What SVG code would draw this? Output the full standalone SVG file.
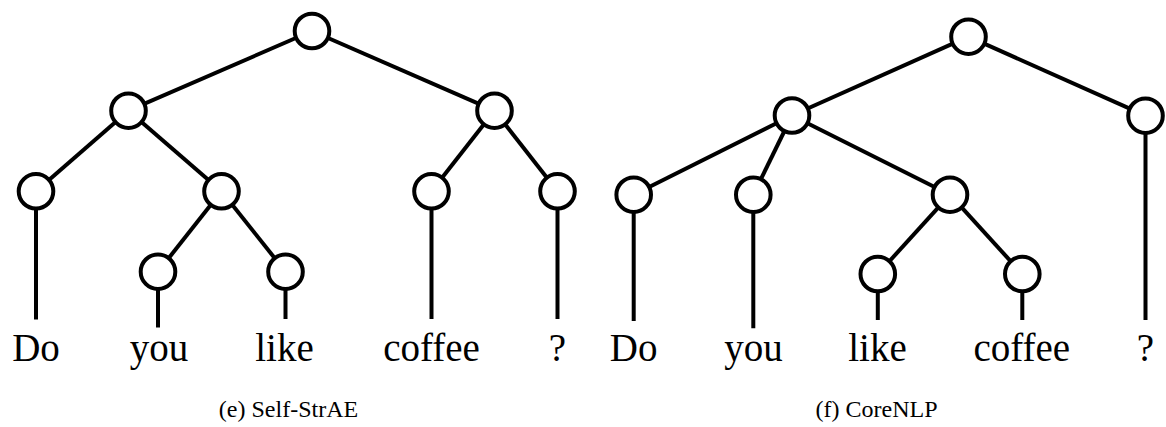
<svg xmlns="http://www.w3.org/2000/svg" width="1166" height="427" viewBox="0 0 1166 427">
<style>
.edge{stroke:#000;stroke-width:4;fill:none;stroke-linecap:butt}
.node{fill:#fff;stroke:#000;stroke-width:4}
.word{font-family:'Liberation Serif',Tinos,'Times New Roman',Times,'DejaVu Serif',serif;font-size:39px;fill:#000;text-anchor:middle}
.cap{font-family:'Liberation Serif',Tinos,'Times New Roman',Times,'DejaVu Serif',serif;font-size:24px;fill:#000;text-anchor:middle}
</style>
<rect width="1166" height="427" fill="#fff"/>
<g id="connectors">
<line class="edge" x1="312" y1="31" x2="128.5" y2="110.7"/>
<line class="edge" x1="312" y1="31" x2="494.5" y2="110.7"/>
<line class="edge" x1="128.5" y1="110.7" x2="36" y2="191.3"/>
<line class="edge" x1="128.5" y1="110.7" x2="221.5" y2="191.3"/>
<line class="edge" x1="494.5" y1="110.7" x2="431.5" y2="191.3"/>
<line class="edge" x1="494.5" y1="110.7" x2="557.5" y2="191.3"/>
<line class="edge" x1="221.5" y1="191.3" x2="158" y2="271.7"/>
<line class="edge" x1="221.5" y1="191.3" x2="285.5" y2="271.7"/>
<line class="edge" x1="36" y1="191.3" x2="36" y2="319.5"/>
<line class="edge" x1="431.5" y1="191.3" x2="431.5" y2="319"/>
<line class="edge" x1="557.5" y1="191.3" x2="557.5" y2="319"/>
<line class="edge" x1="158" y1="271.7" x2="158" y2="327.5"/>
<line class="edge" x1="285.5" y1="271.7" x2="285.5" y2="319"/>
<line class="edge" x1="968.5" y1="36.7" x2="792" y2="115.5"/>
<line class="edge" x1="968.5" y1="36.7" x2="1145.5" y2="115.7"/>
<line class="edge" x1="792" y1="115.5" x2="633.7" y2="194.7"/>
<line class="edge" x1="792" y1="115.5" x2="753.3" y2="194.7"/>
<line class="edge" x1="792" y1="115.5" x2="950" y2="194.7"/>
<line class="edge" x1="950" y1="194.7" x2="877.8" y2="274"/>
<line class="edge" x1="950" y1="194.7" x2="1022.3" y2="274"/>
<line class="edge" x1="633.7" y1="194.7" x2="633.7" y2="321"/>
<line class="edge" x1="753.3" y1="194.7" x2="753.3" y2="328.3"/>
<line class="edge" x1="877.8" y1="274" x2="877.8" y2="320"/>
<line class="edge" x1="1022.3" y1="274" x2="1022.3" y2="320"/>
<line class="edge" x1="1145.5" y1="115.7" x2="1145.5" y2="320"/>
</g>
<g id="e-root"><circle class="node" cx="312" cy="31" r="17.3"/></g>
<g id="e-n1"><circle class="node" cx="128.5" cy="110.7" r="17.3"/></g>
<g id="e-n2"><circle class="node" cx="494.5" cy="110.7" r="17.3"/></g>
<g id="e-do"><circle class="node" cx="36" cy="191.3" r="17.3"/></g>
<g id="e-n3"><circle class="node" cx="221.5" cy="191.3" r="17.3"/></g>
<g id="e-coffee"><circle class="node" cx="431.5" cy="191.3" r="17.3"/></g>
<g id="e-q"><circle class="node" cx="557.5" cy="191.3" r="17.3"/></g>
<g id="e-you"><circle class="node" cx="158" cy="271.7" r="17.3"/></g>
<g id="e-like"><circle class="node" cx="285.5" cy="271.7" r="17.3"/></g>
<g id="f-root"><circle class="node" cx="968.5" cy="36.7" r="17.3"/></g>
<g id="f-n1"><circle class="node" cx="792" cy="115.5" r="17.3"/></g>
<g id="f-q"><circle class="node" cx="1145.5" cy="115.7" r="17.3"/></g>
<g id="f-do"><circle class="node" cx="633.7" cy="194.7" r="17.3"/></g>
<g id="f-you"><circle class="node" cx="753.3" cy="194.7" r="17.3"/></g>
<g id="f-n2"><circle class="node" cx="950" cy="194.7" r="17.3"/></g>
<g id="f-like"><circle class="node" cx="877.8" cy="274" r="17.3"/></g>
<g id="f-coffee"><circle class="node" cx="1022.3" cy="274" r="17.3"/></g>
<g id="words">
<text class="word" x="36" y="361">Do</text>
<text class="word" x="159" y="361">you</text>
<text class="word" x="284.5" y="361">like</text>
<text class="word" x="431.5" y="361">coffee</text>
<text class="word" x="557.5" y="361">?</text>
<text class="word" x="633.7" y="361">Do</text>
<text class="word" x="753.5" y="361">you</text>
<text class="word" x="877.5" y="361">like</text>
<text class="word" x="1021.8" y="361">coffee</text>
<text class="word" x="1145.5" y="361">?</text>
</g>
<g id="captions">
<text class="cap" x="288.5" y="417">(e) Self-StrAE</text>
<text class="cap" x="876.5" y="417">(f) CoreNLP</text>
</g>
</svg>
